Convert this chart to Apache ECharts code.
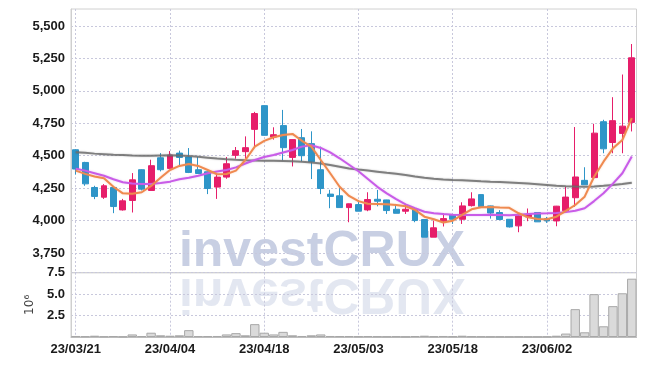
<!DOCTYPE html>
<html><head><meta charset="utf-8">
<script src="https://cdn.jsdelivr.net/npm/echarts@6/dist/echarts.min.js"></script>
<style>html,body{margin:0;padding:0;background:#fff}#c{width:645px;height:366px}</style>
</head><body><div id="c"></div>
<script>
// ---- data ----
const dates = [
 '23/03/21','23/03/22','23/03/23','23/03/24','23/03/27','23/03/28','23/03/29','23/03/30','23/03/31',
 '23/04/03','23/04/04','23/04/05','23/04/06','23/04/07','23/04/10','23/04/11','23/04/12','23/04/13','23/04/14',
 '23/04/17','23/04/18','23/04/19','23/04/20','23/04/21','23/04/24','23/04/25','23/04/26','23/04/27','23/04/28',
 '23/05/02','23/05/03','23/05/04','23/05/08','23/05/09','23/05/10','23/05/11','23/05/12','23/05/15','23/05/16',
 '23/05/17','23/05/18','23/05/19','23/05/22','23/05/23','23/05/24','23/05/25','23/05/26','23/05/30','23/05/31',
 '23/06/01','23/06/02','23/06/05','23/06/07','23/06/08','23/06/09','23/06/12','23/06/13','23/06/14','23/06/15','23/06/16'
];
const opens  = [4546,4448,4255,4180,4255,4082,4155,4392,4232,4484,4402,4520,4490,4392,4376,4258,4335,4503,4531,4703,
                4886,4644,4732,4487,4639,4593,4392,4204,4191,4100,4123,4082,4164,4159,4087,4072,4082,4008,3872,3995,
                4044,4010,4115,4200,4113,4062,4010,3959,4028,4062,4015,3997,4075,4176,4310,4331,4762,4602,4672,4757];
const closes = [4397,4283,4186,4268,4108,4152,4314,4242,4423,4392,4505,4487,4371,4363,4247,4335,4438,4539,4562,4825,
                4657,4662,4562,4624,4500,4454,4247,4186,4100,4129,4072,4162,4149,4077,4056,4087,4000,3872,3944,4015,
                4010,4113,4167,4108,4058,4008,3951,4036,4044,3990,3997,4111,4181,4336,4276,4674,4553,4770,4728,5255];
const lows   = [4355,4268,4165,4167,4057,4077,4062,4232,4232,4379,4402,4423,4366,4363,4204,4167,4322,4477,4479,4559,
                4657,4624,4464,4417,4456,4320,4204,4095,4100,3987,4072,4072,4110,4051,4056,4051,3987,3872,3872,3954,
                3974,3974,4108,4108,4015,4003,3946,3910,3995,3990,3982,3956,4067,4106,4276,4331,4519,4519,4519,4687];
const highs  = [4550,4453,4268,4281,4258,4167,4366,4395,4469,4520,4536,4539,4559,4490,4378,4353,4490,4567,4649,4838,
                4888,4719,4853,4626,4706,4688,4570,4237,4250,4131,4154,4218,4236,4160,4128,4123,4083,4010,4000,4056,
                4046,4141,4218,4202,4115,4080,4012,4049,4093,4064,4028,4113,4261,4721,4411,4746,4777,4951,5126,5361];
const maShort = [4385,4360,4340,4326,4261,4210,4207,4218,4267,4330,4390,4421,4436,4421,4390,4357,4359,4385,4467,4570,
                 4614,4642,4660,4668,4615,4570,4467,4365,4261,4190,4150,4130,4128,4126,4120,4110,4082,4030,4010,3985,
                 3999,4043,4087,4103,4105,4100,4098,4056,4025,4012,4010,4030,4074,4120,4184,4338,4454,4557,4621,4789];
const maMid   = [4400,4385,4365,4345,4318,4295,4285,4282,4282,4290,4300,4318,4330,4345,4365,4378,4390,4410,4440,4467,
                 4490,4506,4525,4544,4570,4580,4560,4525,4480,4430,4380,4320,4260,4210,4165,4125,4095,4068,4056,4050,
                 4045,4043,4043,4043,4045,4043,4040,4045,4050,4055,4056,4058,4065,4075,4095,4150,4210,4285,4365,4493];
const maLong  = [4527,4522,4516,4512,4508,4505,4502,4500,4500,4502,4503,4502,4498,4492,4485,4478,4472,4468,4465,4463,
                 4462,4461,4460,4458,4454,4448,4440,4428,4415,4402,4393,4385,4377,4368,4360,4352,4340,4330,4322,4317,
                 4313,4310,4307,4303,4300,4298,4294,4290,4285,4280,4274,4268,4264,4262,4261,4263,4268,4274,4282,4292];
const volumes = [0.12,0.08,0.15,0.06,0.10,0.05,0.30,0.10,0.50,0.20,0.15,0.20,0.80,0.10,0.10,0.12,0.30,0.45,0.20,1.50,
                 0.50,0.30,0.60,0.20,0.12,0.20,0.30,0.12,0.10,0.10,0.08,0.10,0.08,0.06,0.07,0.05,0.10,0.15,0.08,0.12,
                 0.08,0.15,0.08,0.06,0.05,0.05,0.04,0.05,0.04,0.04,0.05,0.15,0.40,3.25,0.55,5.00,1.25,3.60,5.10,6.80];
const priceTicks = [3750,4000,4250,4500,4750,5000,5250,5500];
const volumeTicks = [2.5,5.0,7.5];

// ---- chart ----
const FONT = "'Liberation Sans Narrow','Liberation Sans',Arial,sans-serif";
const LABEL = {fontFamily:FONT, fontSize:13, fontWeight:'bold', color:'#1a1a1a'};
const GRID_LINE = {type:[2,2], color:'#c8c8dc', width:1};
const WM_FONT = "bold 50px 'Liberation Sans',Arial,sans-serif";
const candleData = opens.map((o,i)=>[o, closes[i], lows[i], highs[i]]);
const chart = echarts.init(document.getElementById('c'));
chart.setOption({
  animation:false,
  graphic:[
    {type:'text', z:-1, x:322, y:252, style:{text:'investCRUX', font:WM_FONT, fill:'#c8cfe3', align:'center', verticalAlign:'middle'}},
    {type:'text', z:-1, x:322, y:293, scaleY:-1, style:{text:'investCRUX', font:WM_FONT, fill:'#c8cfe3', opacity:0.5, align:'center', verticalAlign:'middle'}}
  ],
  grid:[
    {left:71, right:8.5, top:9, height:263.7, show:true, borderColor:'#d0d0d0', borderWidth:1, backgroundColor:'transparent'},
    {left:71, right:8.5, top:272.7, bottom:29, show:true, borderColor:'#d0d0d0', borderWidth:1, backgroundColor:'transparent'}
  ],
  xAxis:[
    {type:'category', gridIndex:0, data:dates, boundaryGap:true,
     axisLine:{show:false}, axisTick:{show:false}, axisLabel:{show:false},
     splitLine:{show:true, interval:9, alignWithLabel:true, lineStyle:GRID_LINE}},
    {type:'category', gridIndex:1, data:dates, boundaryGap:true,
     axisLine:{show:true, lineStyle:{color:'#bdbdbd'}}, axisTick:{show:false},
     axisLabel:Object.assign({interval:9, margin:6}, LABEL),
     splitLine:{show:true, interval:9, alignWithLabel:true, lineStyle:GRID_LINE}}
  ],
  yAxis:[
    {type:'value', gridIndex:0, min:3598, max:5631, scale:true,
     axisLine:{show:true, lineStyle:{color:'#cfcfcf'}},
     axisTick:{show:false, customValues:priceTicks},
     axisLabel:Object.assign({customValues:priceTicks, margin:6, padding:[5,0,0,0],
                formatter:v=>Number(v).toLocaleString('en-US')}, LABEL),
     splitLine:{show:true, lineStyle:GRID_LINE}},
    {type:'value', gridIndex:1, min:0, max:7.5, interval:2.5,
     name:'10⁶', nameLocation:'middle', nameRotate:90, nameGap:22,
     nameTextStyle:{fontFamily:"'DejaVu Sans',sans-serif", fontSize:12, color:'#444'},
     axisLine:{show:true, lineStyle:{color:'#cfcfcf'}}, axisTick:{show:false},
     axisLabel:Object.assign({showMinLabel:false, margin:6, padding:[5,0,0,0],
                formatter:v=>volumeTicks.includes(v)?v.toFixed(1):''}, LABEL),
     splitLine:{show:true, lineStyle:GRID_LINE}}
  ],
  series:[
    {type:'candlestick', xAxisIndex:0, yAxisIndex:0, data:candleData, barWidth:6.4,
     itemStyle:{color:'#e61e6a', color0:'#2e95c8', borderColor:'#e61e6a', borderColor0:'#2e95c8', borderWidth:1}},
    {type:'line', xAxisIndex:0, yAxisIndex:0, data:maLong, symbol:'none', z:3,
     lineStyle:{color:'rgba(110,110,110,0.85)', width:2, shadowColor:'rgba(0,0,0,0.25)', shadowBlur:2}},
    {type:'line', xAxisIndex:0, yAxisIndex:0, data:maMid, symbol:'none', z:4,
     lineStyle:{color:'#c95ce8', width:2, shadowColor:'rgba(180,80,220,0.35)', shadowBlur:2}},
    {type:'line', xAxisIndex:0, yAxisIndex:0, data:maShort, symbol:'none', z:5,
     lineStyle:{color:'#ef8a50', width:2, shadowColor:'rgba(240,130,70,0.35)', shadowBlur:2}},
    {type:'bar', xAxisIndex:1, yAxisIndex:1, data:volumes, barWidth:'100%',
     itemStyle:{color:'#dadada', borderColor:'#a8a8a8', borderWidth:1}}
  ]
});
</script></body></html>
